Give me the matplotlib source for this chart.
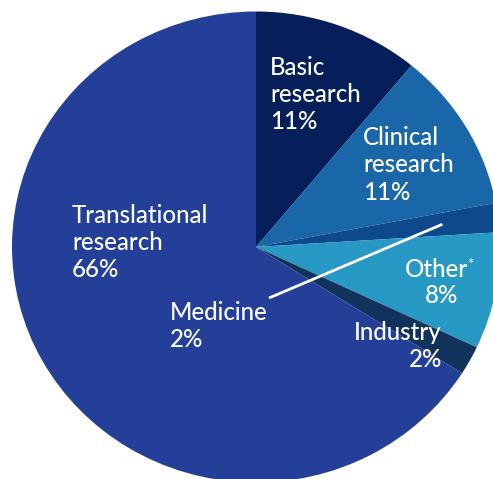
import matplotlib
matplotlib.use("Agg")
import matplotlib.pyplot as plt
import numpy as np

# Data
categories = ["Basic research", "Clinical research", "Medicine", "Other*", "Industry", "Translational research"]
shares = [11, 11, 2, 8, 2, 66]
colors = ["#061f5a", "#1966a8", "#0e4a8b", "#2898c5", "#11325a", "#233f98"]

W, H = 493, 479
fig = plt.figure(figsize=(W / 100, H / 100), dpi=100)
ax = fig.add_axes([0, 0, 1, 1])

wedges, _ = ax.pie(shares, colors=colors, startangle=90, counterclock=False,
                   radius=1.0, center=(0, 0),
                   wedgeprops=dict(linewidth=0))
ax.set_aspect("auto")
cx, cy, rx, ry = 256, 247, 244, 235.5
ax.set_xlim((0 - cx) / rx, (W - cx) / rx)
ax.set_ylim((cy - H) / ry, (cy - 0) / ry)
ax.axis("off")

def px(x, y):
    return ((x - cx) / rx, (cy - y) / ry)

# Leader line for Medicine
w = wedges[2]
theta = np.deg2rad((w.theta1 + w.theta2) / 2)
x0, y0 = 0.77 * np.cos(theta), 0.77 * np.sin(theta)
x1, y1 = px(269, 298)
ax.plot([x0, x1], [y0, y1], color="white", lw=2, solid_capstyle="butt")

font = dict(family="Lato", size=17.3, color="white", weight="medium")

def lines(x, ys, texts, ha="left"):
    for y, t in zip(ys, texts):
        ax.text(*px(x, y), t, ha=ha, va="baseline", **font)

lines(270, [75, 102, 129], ["Basic", "research", "11%"])
lines(363, [145, 172.5, 200], ["Clinical", "research", "11%"])
lines(72, [223, 250, 277], ["Translational", "research", "66%"])
lines(170, [320, 347], ["Medicine", "2%"])
lines(442, [340, 367], ["Industry", "2%"], ha="right")
lines(436, [277], ["Other"], ha="center")
ax.text(*px(467, 269), "*", ha="left", va="baseline", family="Lato", size=11, color="white")
lines(442, [303], ["8%"], ha="center")

fig.savefig("out.png", dpi=100)
